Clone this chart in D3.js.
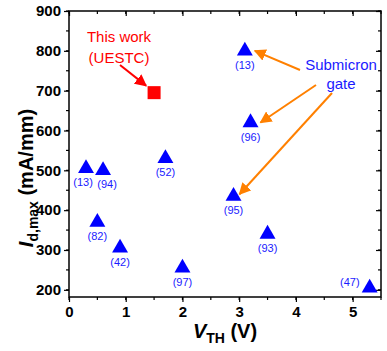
<!DOCTYPE html>
<html>
<head>
<meta charset="utf-8">
<script src="https://cdn.jsdelivr.net/npm/d3@7"></script>
<style>
  body { margin: 0; background: #fff; }
  svg { font-family: Arial, "Liberation Sans", sans-serif; }
</style>
</head>
<body>
<svg id="chart" width="387" height="351"></svg>
<script>
// Reference devices (blue triangles)
const vth = [0.3, 0.6, 1.7, 0.5, 0.9, 2.0, 3.1, 3.2, 2.9, 3.5, 5.3];
const idmax = [505, 500, 530, 370, 305, 255, 800, 620, 435, 340, 205];
const refs = ["(13)", "(94)", "(52)", "(82)", "(42)", "(97)", "(13)", "(96)", "(95)", "(93)", "(47)"];

// This work
const thisWork = { vth: 1.5, id: 695 };

const xTicks = [0, 1, 2, 3, 4, 5];
const yTicks = [200, 300, 400, 500, 600, 700, 800, 900];

const svg = d3.select("#chart");
const plotL = 69, plotR = 381, plotT = 11, plotB = 297;

const x = d3.scaleLinear().domain([0, 5.5]).range([plotL, plotR]);
const y = d3.scaleLinear().domain([182, 900]).range([plotB, plotT]);

const defs = svg.append("defs");
function marker(id, color) {
  defs.append("marker")
    .attr("id", id)
    .attr("viewBox", "0 0 10 10")
    .attr("refX", 9).attr("refY", 5)
    .attr("markerWidth", 6).attr("markerHeight", 6)
    .attr("markerUnits", "strokeWidth")
    .attr("orient", "auto")
    .append("path")
    .attr("d", "M0,0 L10,5 L0,10 z")
    .attr("fill", color);
}
marker("arrRed", "#ff0000");
marker("arrOrange", "#ff8000");

// Axes: left/bottom ticks outside, top/right ticks inside
const minorX = d3.range(0, 5.51, 0.5);
const minorY = d3.range(200, 901, 50);

const gx = svg.append("g").attr("transform", `translate(0,${plotB})`)
  .call(d3.axisBottom(x).tickValues(xTicks).tickSize(5).tickPadding(4).tickFormat(d3.format("d")));
const gy = svg.append("g").attr("transform", `translate(${plotL},0)`)
  .call(d3.axisLeft(y).tickValues(yTicks).tickSize(5).tickPadding(3).tickFormat(d3.format("d")));
const gt = svg.append("g").attr("transform", `translate(0,${plotT})`)
  .call(d3.axisBottom(x).tickValues(xTicks).tickSize(5).tickFormat(""));
const gr = svg.append("g").attr("transform", `translate(${plotR},0)`)
  .call(d3.axisLeft(y).tickValues(yTicks).tickSize(5).tickFormat(""));

[gx, gy, gt, gr].forEach(g => {
  g.select(".domain").remove();
  g.selectAll("line").attr("stroke", "#000").attr("stroke-width", 1.2);
});
[gx, gy].forEach(g => g.selectAll("text")
  .attr("font-size", 15).attr("font-weight", "bold").attr("fill", "#000"));

// minor ticks
svg.append("g").selectAll("line").data(minorX).join("line")
  .attr("x1", d => x(d)).attr("x2", d => x(d)).attr("y1", plotB).attr("y2", plotB + 3)
  .attr("stroke", "#000").attr("stroke-width", 1.2);
svg.append("g").selectAll("line").data(minorX).join("line")
  .attr("x1", d => x(d)).attr("x2", d => x(d)).attr("y1", plotT).attr("y2", plotT + 3)
  .attr("stroke", "#000").attr("stroke-width", 1.2);
svg.append("g").selectAll("line").data(minorY).join("line")
  .attr("x1", plotL - 3).attr("x2", plotL).attr("y1", d => y(d)).attr("y2", d => y(d))
  .attr("stroke", "#000").attr("stroke-width", 1.2);
svg.append("g").selectAll("line").data(minorY).join("line")
  .attr("x1", plotR - 3).attr("x2", plotR).attr("y1", d => y(d)).attr("y2", d => y(d))
  .attr("stroke", "#000").attr("stroke-width", 1.2);

// frame
svg.append("rect")
  .attr("x", plotL).attr("y", plotT)
  .attr("width", plotR - plotL).attr("height", plotB - plotT)
  .attr("fill", "none").attr("stroke", "#000").attr("stroke-width", 1.5);

// triangles
const tri = d3.symbol().type(d3.symbolTriangle).size(110);
const pts = vth.map((v, i) => ({ v, id: idmax[i], ref: refs[i] }));
svg.append("g").selectAll("path").data(pts).join("path")
  .attr("d", tri)
  .attr("transform", d => `translate(${x(d.v)},${y(d.id)})`)
  .attr("fill", "#0000ff");

// reference labels: below each triangle, (47) sits to its left
const labelShift = { 0: -3, 1: 4 };
svg.append("g").selectAll("text").data(pts).join("text")
  .attr("x", (d, i) => i === 10 ? x(d.v) - 10 : x(d.v) + (labelShift[i] || 0))
  .attr("y", (d, i) => i === 10 ? y(d.id) - 2 : y(d.id) + 18)
  .attr("text-anchor", (d, i) => i === 10 ? "end" : "middle")
  .attr("font-size", 11)
  .attr("fill", "#1a1aff")
  .text(d => d.ref);

// this work
svg.append("rect")
  .attr("x", x(thisWork.vth) - 6.5).attr("y", y(thisWork.id) - 6.5)
  .attr("width", 13).attr("height", 13)
  .attr("fill", "#ff0000");

svg.append("text").attr("x", 119).attr("y", 42)
  .attr("text-anchor", "middle").attr("font-size", 15).attr("fill", "#ff0000")
  .text("This work");
svg.append("text").attr("x", 119).attr("y", 63)
  .attr("text-anchor", "middle").attr("font-size", 15).attr("fill", "#ff0000")
  .text("(UESTC)");
svg.append("line")
  .attr("x1", 120).attr("y1", 65).attr("x2", x(thisWork.vth) - 8).attr("y2", y(thisWork.id) - 7)
  .attr("stroke", "#ff0000").attr("stroke-width", 2)
  .attr("marker-end", "url(#arrRed)");

// submicron gate
svg.append("text").attr("x", 341).attr("y", 70)
  .attr("text-anchor", "middle").attr("font-size", 15).attr("fill", "#1a1aff")
  .text("Submicron");
svg.append("text").attr("x", 341).attr("y", 89)
  .attr("text-anchor", "middle").attr("font-size", 15).attr("fill", "#1a1aff")
  .text("gate");

const arrows = [
  { from: [300, 70], to: 6 },
  { from: [316, 85], to: 7 },
  { from: [332, 93], to: 8 }
];
svg.append("g").selectAll("line").data(arrows).join("line")
  .attr("x1", d => d.from[0]).attr("y1", d => d.from[1])
  .attr("x2", d => x(vth[d.to]) + (d.to === 8 ? 6 : 10))
  .attr("y2", d => y(idmax[d.to]) + (d.to === 8 ? -2 : 0))
  .attr("stroke", "#ff8000").attr("stroke-width", 2)
  .attr("marker-end", "url(#arrOrange)");

// axis titles
const yl = svg.append("text")
  .attr("transform", "translate(33,178) rotate(-90)")
  .attr("text-anchor", "middle").attr("font-size", 20).attr("font-weight", "bold").attr("fill", "#000");
yl.append("tspan").attr("font-style", "italic").text("I");
yl.append("tspan").attr("font-size", 14).attr("dy", 5).text("d,max");
yl.append("tspan").attr("dy", -5).text(" (mA/mm)");

const xl = svg.append("text")
  .attr("x", 225).attr("y", 338)
  .attr("text-anchor", "middle").attr("font-size", 20).attr("font-weight", "bold").attr("fill", "#000");
xl.append("tspan").attr("font-style", "italic").text("V");
xl.append("tspan").attr("font-size", 14).attr("dy", 5).text("TH");
xl.append("tspan").attr("dy", -5).text(" (V)");
</script>
</body>
</html>
